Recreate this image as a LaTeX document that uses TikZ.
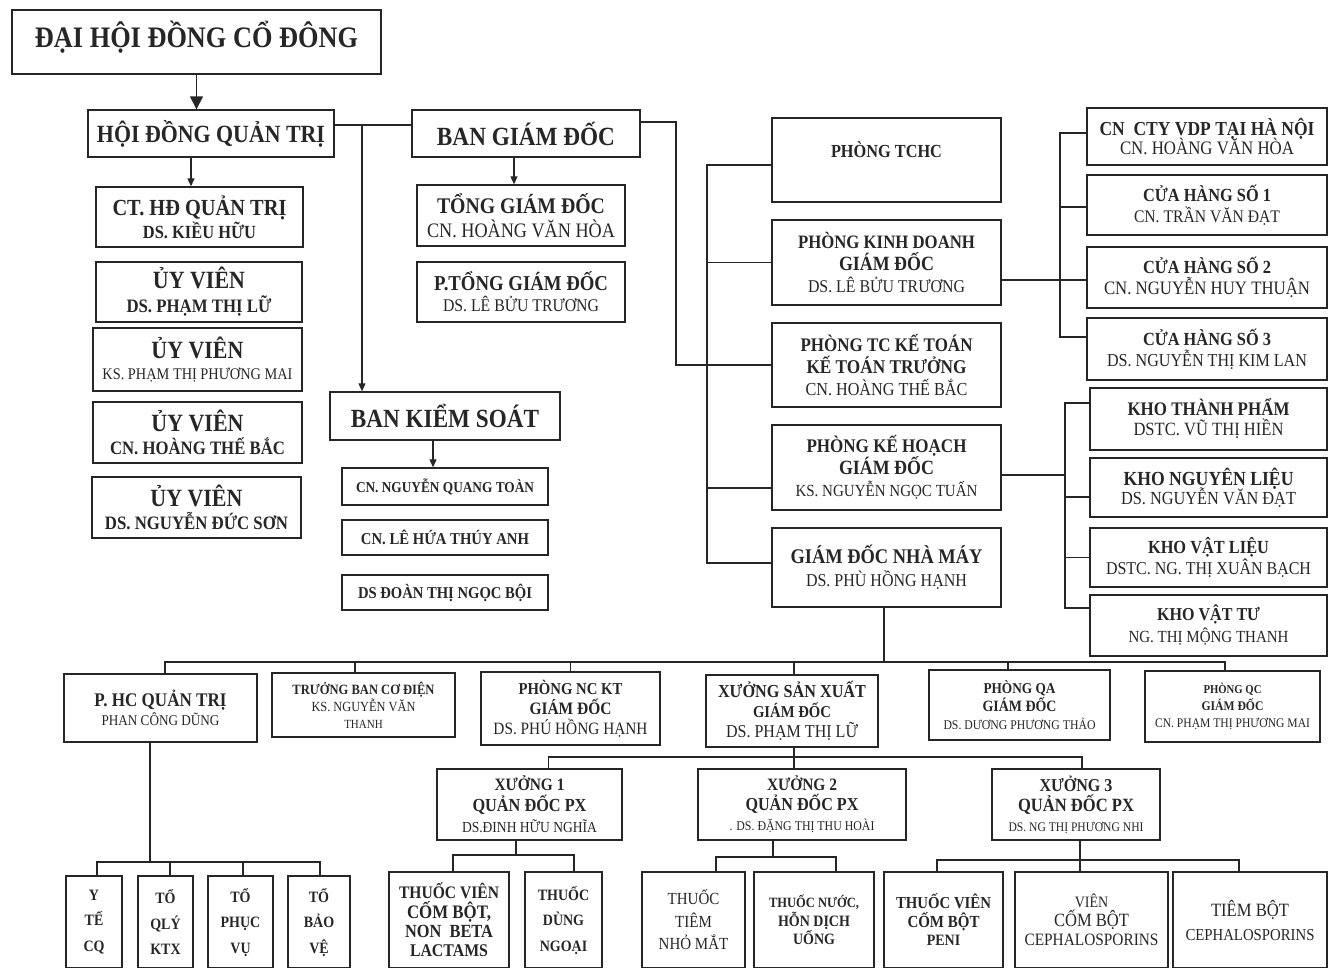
\documentclass[tikz,border=0pt]{standalone}
\usepackage{fontspec}
\setmainfont{Liberation Serif}
\usepackage{graphicx}
\usetikzlibrary{arrows.meta}
\definecolor{ink}{RGB}{38,38,38}
\newcommand\Tw[2]{\scalebox{1}[1.13]{\resizebox{#1pt}{!}{#2}}}
\newcommand\Tb[2]{\scalebox{1}[1.13]{\resizebox{#1pt}{!}{\bfseries #2}}}
\newcommand\Fs[2]{\scalebox{1}[1.13]{\fontsize{#1}{#1}\selectfont #2}}
\newcommand\Fb[2]{\scalebox{1}[1.13]{\fontsize{#1}{#1}\selectfont\bfseries #2}}
\newcommand\Lsk[1]{\fontsize{10}{#1}\selectfont\lineskiplimit=-100pt\lineskip=0pt\relax}
\newcommand\Bx[7]{\node[box,font=\Lsk{#6},minimum width={#4-#2},minimum height={#5-#3}] (#1) at ({(#2+#4)/2},{(#3+#5)/2}) {#7};}
\begin{document}
\begin{tikzpicture}[x=1pt,y=-1pt,
  box/.style={draw=ink,line width=1.4pt,inner sep=0pt,align=center,text=ink,fill=white},
  con/.style={draw=ink,line width=1.2pt},
  arr/.style={con,-{Triangle[length=8pt,width=7pt]}},
  arrbig/.style={con,line width=1.6pt,-{Triangle[length=13pt,width=13pt]}}]
\useasboundingbox (0,0) rectangle (1329,967);
\clip (0,0) rectangle (1329,967);
\fill[white] (0,0) rectangle (1329,967);

% top left
\Bx{dhdcd}{12}{10}{381}{74}{20}{\Tb{323}{ĐẠI HỘI ĐỒNG CỔ ĐÔNG}\\[-4pt]\mbox{}}
\Bx{hdqt}{88}{110}{334}{157}{20}{\Tb{228}{HỘI ĐỒNG QUẢN TRỊ}}
\Bx{bgd}{412}{110}{640}{157}{20}{\Tb{178}{BAN GIÁM ĐỐC}}
\Bx{ct}{96}{187}{303}{247}{23}{\Tb{174}{CT. HĐ QUẢN TRỊ}\\\Tb{113}{DS. KIỀU HỮU}}
\Bx{uv1}{96}{262}{302}{322}{24}{\Tb{92}{ỦY VIÊN}\\\Tb{145}{DS. PHẠM THỊ LỮ}}
\Bx{uv2}{93}{328}{302}{391}{21}{\Tb{92}{ỦY VIÊN}\\\Tw{190}{KS. PHẠM THỊ PHƯƠNG MAI}}
\Bx{uv3}{93}{402}{302}{463}{23}{\Tb{92}{ỦY VIÊN}\\\Tb{175}{CN. HOÀNG THẾ BẮC}}
\Bx{uv4}{92}{477}{301}{538}{23}{\Tb{92}{ỦY VIÊN}\\\Tb{183}{DS. NGUYỄN ĐỨC SƠN}}
\Bx{tgd}{417}{185}{625}{246}{24}{\Tb{168}{TỔNG GIÁM ĐỐC}\\\Tw{188}{CN. HOÀNG VĂN HÒA}}
\Bx{ptgd}{417}{262}{625}{322}{21}{\Tb{174}{P.TỔNG GIÁM ĐỐC}\\\Tw{156}{DS. LÊ BỬU TRƯƠNG}}
\Bx{bks}{330}{392}{560}{440}{20}{\Tb{188}{BAN KIỂM SOÁT}}
\Bx{k1}{342}{468}{548}{505}{20}{\Tb{178}{CN. NGUYỄN QUANG TOÀN}}
\Bx{k2}{342}{520}{548}{555}{20}{\Tb{168}{CN. LÊ HỨA THÚY ANH}}
\Bx{k3}{342}{575}{548}{610}{20}{\Tb{174}{DS ĐOÀN THỊ NGỌC BỘI}}

% right column 1
\Bx{tchc}{772}{118}{1001}{202}{20}{\Tb{111}{PHÒNG TCHC}\\\mbox{}}
\Bx{kd}{772}{220}{1001}{305}{22}{\Tb{177}{PHÒNG KINH DOANH}\\\Tb{95}{GIÁM ĐỐC}\\\Tw{157}{DS. LÊ BỬU TRƯƠNG}}
\Bx{tckt}{772}{323}{1001}{407}{22}{\Tb{172}{PHÒNG TC KẾ TOÁN}\\\Tb{160}{KẾ TOÁN TRƯỞNG}\\\Tw{162}{CN. HOÀNG THẾ BẮC}}
\Bx{kh}{772}{425}{1001}{510}{22}{\Tb{160}{PHÒNG KẾ HOẠCH}\\\Tb{95}{GIÁM ĐỐC}\\\Tw{182}{KS. NGUYỄN NGỌC TUẤN}}
\Bx{gdnm}{772}{528}{1001}{607}{23}{\Tb{192}{GIÁM ĐỐC NHÀ MÁY}\\\Tw{161}{DS. PHÙ HỒNG HẠNH}}

% right column 2
\Bx{cn}{1087}{108}{1327}{165}{19}{\Tb{215}{CN\ \ CTY VDP TẠI HÀ NỘI}\\\Tw{174}{CN. HOÀNG VĂN HÒA}}
\Bx{ch1}{1087}{175}{1327}{235}{21}{\Tb{128}{CỬA HÀNG SỐ 1}\\\Tw{146}{CN. TRẦN VĂN ĐẠT}}
\Bx{ch2}{1087}{247}{1327}{308}{21}{\Tb{128}{CỬA HÀNG SỐ 2}\\\Tw{206}{CN. NGUYỄN HUY THUẬN}}
\Bx{ch3}{1087}{318}{1327}{380}{21}{\Tb{128}{CỬA HÀNG SỐ 3}\\\Tw{200}{DS. NGUYỄN THỊ KIM LAN}}

% right column 3
\Bx{ktp}{1090}{388}{1327}{450}{20}{\Tb{162}{KHO THÀNH PHẨM}\\\Tw{150}{DSTC. VŨ THỊ HIỀN}}
\Bx{knl}{1090}{458}{1327}{517}{19}{\Tb{170}{KHO NGUYÊN LIỆU}\\\Tw{175}{DS. NGUYỄN VĂN ĐẠT}}
\Bx{kvl}{1090}{528}{1327}{587}{21}{\Tb{121}{KHO VẬT LIỆU}\\\Tw{205}{DSTC. NG. THỊ XUÂN BẠCH}}
\Bx{kvt}{1090}{595}{1327}{656}{22}{\Tb{103}{KHO VẬT TƯ}\\\Tw{160}{NG. THỊ MỘNG THANH}}

% factory row
\Bx{phc}{64}{674}{257}{742}{19}{\Tb{132}{P. HC QUẢN TRỊ}\\\Tw{118}{PHAN CÔNG DŨNG}}
\Bx{tb}{272}{673}{455}{737}{17}{\Tb{142}{TRƯỞNG BAN CƠ ĐIỆN}\\\Tw{104}{KS. NGUYỄN VĂN}\\\Fs{11}{THANH}}
\Bx{nckt}{481}{672}{660}{745}{20}{\Tb{104}{PHÒNG NC KT}\\\Tb{82}{GIÁM ĐỐC}\\\Tw{154}{DS. PHÚ HỒNG HẠNH}}
\Bx{xsx}{706}{675}{878}{747}{20}{\Tb{148}{XƯỞNG SẢN XUẤT}\\\Tb{78}{GIÁM ĐỐC}\\\Tw{132}{DS. PHẠM THỊ LỮ}}
\Bx{qa}{929}{670}{1110}{740}{18}{\Tb{72}{PHÒNG QA}\\\Tb{74}{GIÁM ĐỐC}\\\Tw{152}{DS. DƯƠNG PHƯƠNG THẢO}}
\Bx{qc}{1145}{671}{1320}{742}{17}{\Tb{58}{PHÒNG QC}\\\Tb{62}{GIÁM ĐỐC}\\\Tw{155}{CN. PHẠM THỊ PHƯƠNG MAI}}

% workshops
\Bx{x1}{437}{769}{622}{840}{21}{\Tb{70}{XƯỞNG 1}\\\Tb{114}{QUẢN ĐỐC PX}\\\Tw{135}{DS.ĐINH HỮU NGHĨA}}
\Bx{x2}{698}{769}{906}{840}{20}{\Tb{70}{XƯỞNG 2}\\\Tb{113}{QUẢN ĐỐC PX}\\\Tw{145}{. DS. ĐẶNG THỊ THU HOÀI}}
\Bx{x3}{992}{769}{1160}{840}{20}{\Tb{73}{XƯỞNG 3}\\\Tb{116}{QUẢN ĐỐC PX}\\\Tw{135}{DS. NG THỊ PHƯƠNG NHI}}

% bottom boxes
\Bx{a1}{389}{872}{509}{968}{19.3}{\Tb{100}{THUỐC VIÊN}\\\Tb{84}{CỐM BỘT,}\\\Tb{88}{NON\ \ BETA}\\\Tb{78}{LACTAMS}}
\Bx{a2}{525}{872}{602}{968}{25.5}{\Fb{14}{THUỐC}\\\Fb{14}{DÙNG}\\\Fb{14}{NGOẠI}}
\Bx{b1}{642}{872}{745}{968}{22.5}{\Fs{15}{THUỐC}\\\Fs{15}{TIÊM}\\\Fs{15}{NHỎ MẮT}}
\Bx{b2}{754}{872}{874}{968}{18.5}{\Tb{90}{THUỐC NƯỚC,}\\\Tb{72}{HỖN DỊCH}\\\Fb{14}{UỐNG}}
\Bx{c1}{884}{872}{1003}{968}{18.5}{\Tb{95}{THUỐC VIÊN}\\\Tb{72}{CỐM BỘT}\\\Fb{14}{PENI}}
\Bx{c2}{1015}{872}{1168}{968}{19}{\Fs{14}{VIÊN}\\\Tw{75}{CỐM BỘT}\\\Tw{134}{CEPHALOSPORINS}}
\Bx{c3}{1173}{872}{1327}{968}{24}{\Tw{78}{TIÊM BỘT}\\\Tw{129}{CEPHALOSPORINS}}
\Bx{p1}{66}{876}{122}{968}{25.5}{\Fb{14}{Y}\\\Fb{14}{TẾ}\\\Fb{14}{CQ}}
\Bx{p2}{138}{876}{193}{968}{25.5}{\Fb{14}{TỔ}\\\Fb{14}{QLÝ}\\\Fb{14}{KTX}}
\Bx{p3}{208}{876}{273}{968}{25.5}{\Fb{14}{TỔ}\\\Fb{14}{PHỤC}\\\Fb{14}{VỤ}}
\Bx{p4}{288}{876}{350}{968}{25.5}{\Fb{14}{TỔ}\\\Fb{14}{BẢO}\\\Fb{14}{VỆ}}

% connectors: top
\coordinate (j1) at (362,125);
\draw[arrbig] (dhdcd.south) -- (dhdcd.south |- hdqt.north);
\draw[arr] ([xshift=-20pt]hdqt.south) -- ([xshift=-20pt]hdqt.south |- ct.north);
\draw[con] ([yshift=8.5pt]hdqt.east) -- ([yshift=8.5pt]hdqt.east -| bgd.west);
\draw[arr] (j1) -- (j1 |- bks.north);
\draw[arr] ([xshift=-12pt]bgd.south) -- ([xshift=-12pt]bgd.south |- tgd.north);
\draw[arr] ([xshift=-12pt]bks.south) -- ([xshift=-12pt]bks.south |- k1.north);

% to departments
\coordinate (bendA) at (676,365);
\coordinate (busA) at (707,365);
\draw[con] ([yshift=11.5pt]bgd.east) -| (bendA) -- (busA);
\draw[con] ([yshift=-5pt]tchc.west) -| (busA);
\draw[con] (kd.west) -| (busA);
\draw[con] (tckt.west) -- (tckt.west -| busA);
\draw[con] ([yshift=-20.5pt]kh.west) -| (busA);
\draw[con] ([yshift=4.5pt]gdnm.west) -| (busA);

% sales branch
\coordinate (busB) at (1060,280);
\draw[con] ([yshift=-17.5pt]kd.east) -- (busB) -- (busB -| ch2.west);
\draw[con] ([yshift=3.5pt]cn.west) -| (busB);
\draw[con] ([yshift=-2pt]ch1.west) -| (busB);
\draw[con] ([yshift=12pt]ch3.west) -| (busB);

% warehouses
\coordinate (busC) at (1065,475);
\draw[con] ([yshift=-7.5pt]kh.east) -- (busC);
\draw[con] ([yshift=16pt]ktp.west) -| (busC);
\draw[con] ([yshift=-9.5pt]knl.west) -| (busC);
\draw[con] (kvl.west) -| (busC);
\draw[con] ([yshift=17.5pt]kvt.west) -| (busC);

% factory
\coordinate (busD) at (884,662);
\draw[con] ([xshift=-2.5pt]gdnm.south) -- (busD);
\draw[con] ([xshift=4.5pt]phc.north) |- (busD);
\draw[con] ([xshift=-8.5pt]tb.north) |- (busD);
\draw[con] (nckt.north) |- (busD);
\draw[con] ([xshift=2pt]xsx.north) |- (busD);
\draw[con] ([xshift=-11.5pt]qa.north) |- (busD);
\draw[con] ([xshift=-7.5pt]qc.north) |- (busD);

\coordinate (busE) at (794,757);
\draw[con] ([xshift=2pt]xsx.south) -- (busE);
\draw[con] ([xshift=19pt]x1.north) |- (busE);
\draw[con] ([xshift=-8pt]x2.north) |- (busE);
\draw[con] ([xshift=6pt]x3.north) |- (busE);

\coordinate (busF) at (516,855);
\draw[con] ([xshift=-13.5pt]x1.south) -- (busF);
\draw[con] ([xshift=4pt]a1.north) |- (busF);
\draw[con] ([xshift=10.5pt]a2.north) |- (busF);

\coordinate (busG) at (773,857);
\draw[con] ([xshift=-29pt]x2.south) -- (busG);
\draw[con] ([xshift=22.5pt]b1.north) |- (busG);
\draw[con] ([xshift=22pt]b2.north) |- (busG);

\coordinate (busH) at (1080,860);
\draw[con] ([xshift=4pt]x3.south) -- (busH);
\draw[con] ([xshift=-6.5pt]c1.north) |- (busH);
\draw[con] ([xshift=-11.5pt]c2.north) |- (busH);
\draw[con] ([xshift=-11pt]c3.north) |- (busH);

\coordinate (busI) at (150,862);
\draw[con] ([xshift=-10.5pt]phc.south) -- (busI);
\draw[con] ([xshift=3pt]p1.north) |- (busI);
\draw[con] ([xshift=4.5pt]p2.north) |- (busI);
\draw[con] ([xshift=2.5pt]p3.north) |- (busI);
\draw[con] ([xshift=1pt]p4.north) |- (busI);
\end{tikzpicture}
\end{document}
